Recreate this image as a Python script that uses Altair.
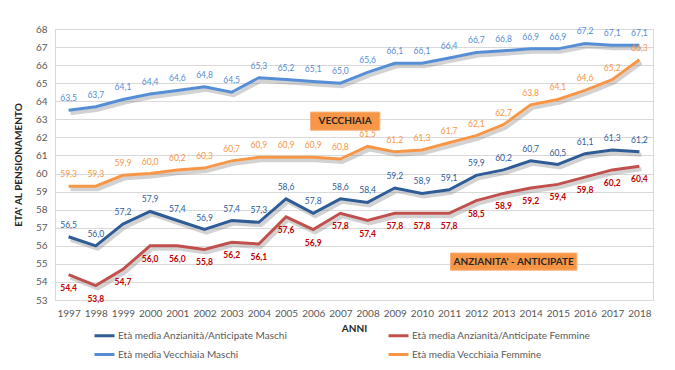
import altair as alt
import pandas as pd

years = list(range(1997, 2019))
anz_m = [56.5, 56.0, 57.2, 57.9, 57.4, 56.9, 57.4, 57.3, 58.6, 57.8, 58.6, 58.4, 59.2, 58.9, 59.1, 59.9, 60.2, 60.7, 60.5, 61.1, 61.3, 61.2]
anz_f = [54.4, 53.8, 54.7, 56.0, 56.0, 55.8, 56.2, 56.1, 57.6, 56.9, 57.8, 57.4, 57.8, 57.8, 57.8, 58.5, 58.9, 59.2, 59.4, 59.8, 60.2, 60.4]
vec_m = [63.5, 63.7, 64.1, 64.4, 64.6, 64.8, 64.5, 65.3, 65.2, 65.1, 65.0, 65.6, 66.1, 66.1, 66.4, 66.7, 66.8, 66.9, 66.9, 67.2, 67.1, 67.1]
vec_f = [59.3, 59.3, 59.9, 60.0, 60.2, 60.3, 60.7, 60.9, 60.9, 60.9, 60.8, 61.5, 61.2, 61.3, 61.7, 62.1, 62.7, 63.8, 64.1, 64.6, 65.2, 66.3]

series_names = [
    "Età media Anzianità/Anticipate Maschi",
    "Età media Anzianità/Anticipate Femmine",
    "Età media Vecchiaia Maschi",
    "Età media Vecchiaia Femmine",
]
series_values = [anz_m, anz_f, vec_m, vec_f]
line_colors = ["#2F5C97", "#C0504D", "#558ED5", "#F79646"]
label_colors = ["#2F5C97", "#C00000", "#558ED5", "#F79646"]
label_below = [False, True, False, False]

# annotation boxes (data coordinates)
ann_text = ["VECCHIAIA", "ANZIANITA' - ANTICIPATE"]
ann_x1 = [2005.9, 2011.05]
ann_x2 = [2008.45, 2015.7]
ann_y1 = [63.4, 55.6]
ann_y2 = [62.4, 54.65]

rows = []
for name, vals, lc, below in zip(series_names, series_values, label_colors, label_below):
    for y, v in zip(years, vals):
        rows.append({"anno": y, "eta": v, "serie": name,
                     "lab": f"{v:.1f}".replace(".", ","), "lc": lc, "below": below})
df = pd.DataFrame(rows)

ann = pd.DataFrame({"t": ann_text, "x1": ann_x1, "x2": ann_x2, "y1": ann_y1, "y2": ann_y2})
ann["xm"] = (ann["x1"] + ann["x2"]) / 2
ann["ym"] = (ann["y1"] + ann["y2"]) / 2

FONT = "Lato"

xs = alt.Scale(domain=[1996.5, 2018.5], nice=False, zero=False)
ys = alt.Scale(domain=[53, 68], nice=False, zero=False)

x_axis = alt.Axis(values=years, format="d", title="ANNI", grid=False,
                  domain=False, ticks=False, labelPadding=8, labelOverlap=False,
                  labelFontSize=10, labelColor="#595959",
                  titleFontSize=10, titleFontWeight="bold", titleColor="#262626",
                  titlePadding=5, labelFont=FONT, titleFont=FONT)
y_axis = alt.Axis(values=list(range(53, 69)), title="ETA' AL PENSIONAMENTO",
                  grid=True, gridColor="#D9D9D9", domain=False, ticks=False,
                  labelPadding=8, labelOverlap=False, labelFontSize=10,
                  labelColor="#595959",
                  titleFontSize=10, titleFontWeight="bold", titleColor="#262626",
                  titlePadding=12, labelFont=FONT, titleFont=FONT)

x_enc = alt.X("anno:Q", scale=xs, axis=x_axis)
y_enc = alt.Y("eta:Q", scale=ys, axis=y_axis)

shadow = alt.Chart(df).mark_line(color="#7F7F7F", opacity=0.35, strokeWidth=4,
                                 xOffset=2, yOffset=3).encode(
    x=x_enc, y=y_enc, detail="serie:N")

lines = alt.Chart(df).mark_line(strokeWidth=3).encode(
    x=x_enc, y=y_enc,
    color=alt.Color("serie:N",
                    scale=alt.Scale(domain=series_names, range=line_colors),
                    sort=series_names,
                    legend=alt.Legend(title=None, orient="none", legendX=38, legendY=295,
                                      direction="horizontal",
                                      columns=2, columnPadding=94, rowPadding=1,
                                      symbolType="stroke", symbolSize=400,
                                      symbolStrokeWidth=3, labelFontSize=10,
                                      labelColor="#595959", labelFont=FONT,
                                      labelOffset=2, labelLimit=300)),
)

labels_above = alt.Chart(df[~df["below"]]).mark_text(fontSize=8.5, dy=-12, font=FONT).encode(
    x=x_enc, y=y_enc,
    text="lab:N", color=alt.Color("lc:N", scale=None))
labels_below = alt.Chart(df[df["below"]]).mark_text(fontSize=8.5, dy=13, font=FONT,
                                                     fontWeight="bold").encode(
    x=x_enc, y=y_enc,
    text="lab:N", color=alt.Color("lc:N", scale=None))

boxes = alt.Chart(ann).mark_rect(color="#F79646", stroke="#FAB07A", strokeWidth=1).encode(
    x=alt.X("x1:Q", scale=xs, axis=x_axis), x2="x2:Q",
    y=alt.Y("y1:Q", scale=ys, axis=y_axis), y2="y2:Q")
box_text = alt.Chart(ann).mark_text(fontSize=10, fontWeight="bold", color="#262626",
                                     font=FONT).encode(
    x=alt.X("xm:Q", scale=xs, axis=x_axis), y=alt.Y("ym:Q", scale=ys, axis=y_axis),
    text="t:N")

chart = alt.layer(shadow, lines, labels_above, labels_below, boxes, box_text).properties(
    width=598, height=271,
    autosize=alt.AutoSizeParams(type="none"),
    padding={"left": 47, "top": 21, "right": 12, "bottom": 62},
    background="white",
).configure_view(stroke="#D9D9D9").configure_axis(labelOverlap=False)

chart.save("out.html", embed_options={"renderer": "svg", "actions": False})
